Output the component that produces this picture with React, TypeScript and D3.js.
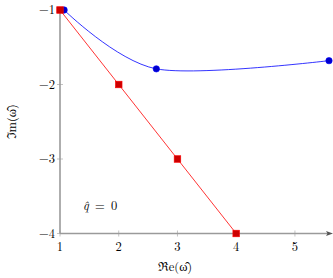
import React from "react";
import * as d3 from "d3";

// values
const blueRe = [1.07, 2.64, 5.58];
const blueIm = [-1.0, -1.79, -1.68];
const redRe = [1, 2, 3, 4];
const redIm = [-1, -2, -3, -4];
const xTicks = [1, 2, 3, 4, 5];
const yTicks = [-1, -2, -3, -4];

export default function App() {
  const svgRef = React.useRef<SVGSVGElement>(null);
  const width = 333;
  const height = 278;

  React.useEffect(() => {
    const svg = d3.select(svgRef.current);
    svg.selectAll("*").remove();

    const x = d3.scaleLinear().domain([1, 5.58]).range([60, 329]);
    const y = d3.scaleLinear().domain([-1, -4]).range([10, 233.5]);
    const font = "'Latin Modern Roman', 'Liberation Serif', 'DejaVu Serif', serif";
    const axisCol = "#9a9a9a";

    // axes
    svg.append("line")
      .attr("x1", x(1)).attr("x2", x(1))
      .attr("y1", y(-1)).attr("y2", y(-4))
      .attr("stroke", axisCol).attr("stroke-width", 1.6);
    svg.append("line")
      .attr("x1", x(1)).attr("x2", 329)
      .attr("y1", y(-4)).attr("y2", y(-4))
      .attr("stroke", axisCol).attr("stroke-width", 1.6);
    svg.append("path")
      .attr("d", `M${333},${y(-4)} L${326},${y(-4) - 2.5} L${327.5},${y(-4)} L${326},${y(-4) + 2.5} Z`)
      .attr("fill", "#555");

    // ticks
    svg.selectAll(".xt").data(xTicks).enter().append("line")
      .attr("x1", (d) => x(d)).attr("x2", (d) => x(d))
      .attr("y1", y(-4) - 3).attr("y2", y(-4) + 3)
      .attr("stroke", axisCol).attr("stroke-width", 0.6);
    svg.selectAll(".yt").data(yTicks).enter().append("line")
      .attr("x1", x(1) - 3).attr("x2", x(1) + 3)
      .attr("y1", (d) => y(d)).attr("y2", (d) => y(d))
      .attr("stroke", axisCol).attr("stroke-width", 0.6);

    svg.selectAll(".xl").data(xTicks).enter().append("text")
      .attr("x", (d) => x(d)).attr("y", y(-4) + 17)
      .attr("text-anchor", "middle")
      .attr("font-family", font).attr("font-size", 12.5)
      .text((d) => String(d));
    svg.selectAll(".yl").data(yTicks).enter().append("text")
      .attr("x", x(1) - 5).attr("y", (d) => y(d) + 4)
      .attr("text-anchor", "end")
      .attr("font-family", font).attr("font-size", 12.5)
      .text((d) => "\u2212" + Math.abs(d));

    // axis labels
    svg.append("text")
      .attr("x", 175).attr("y", 271)
      .attr("text-anchor", "middle")
      .attr("font-family", font).attr("font-size", 12.5)
      .text("\u211Ce(\u03C9\u0302)");
    svg.append("text")
      .attr("transform", `translate(16,${y(-2.5)}) rotate(-90)`)
      .attr("text-anchor", "middle")
      .attr("font-family", font).attr("font-size", 12.5)
      .text("\u2111m(\u03C9\u0302)");

    svg.append("text")
      .attr("x", 83).attr("y", 210)
      .attr("font-family", font).attr("font-size", 12.5)
      .attr("xml:space", "preserve")
      .html("<tspan font-style='italic'>q\u0302</tspan>\u2002=\u20020");

    // blue smooth curve
    const blue = blueRe.map((v, i) => [v, blueIm[i]] as [number, number]);
    const line = d3.line<[number, number]>()
      .x((d) => x(d[0])).y((d) => y(d[1]))
      .curve(d3.curveCardinal.tension(0.1));
    svg.append("path").datum(blue)
      .attr("d", line)
      .attr("fill", "none").attr("stroke", "#0000ff").attr("stroke-width", 0.8);

    // red line
    const red = redRe.map((v, i) => [v, redIm[i]] as [number, number]);
    const rline = d3.line<[number, number]>().x((d) => x(d[0])).y((d) => y(d[1]));
    svg.append("path").datum(red)
      .attr("d", rline)
      .attr("fill", "none").attr("stroke", "#ff0000").attr("stroke-width", 0.8);

    svg.selectAll(".bm").data(blue).enter().append("circle")
      .attr("cx", (d) => x(d[0])).attr("cy", (d) => y(d[1]))
      .attr("r", 3.2)
      .attr("fill", "#0000cc").attr("stroke", "#0000ff").attr("stroke-width", 0.6);
    svg.selectAll(".rm").data(red).enter().append("rect")
      .attr("x", (d) => x(d[0]) - 3.3).attr("y", (d) => y(d[1]) - 3.3)
      .attr("width", 6.6).attr("height", 6.6)
      .attr("fill", "#cc0000").attr("stroke", "#ff0000").attr("stroke-width", 0.6);
  }, []);

  return (
    <svg
      ref={svgRef}
      width={width}
      height={height}
      style={{ position: "absolute", left: 0, top: 0, background: "#fff" }}
    />
  );
}
